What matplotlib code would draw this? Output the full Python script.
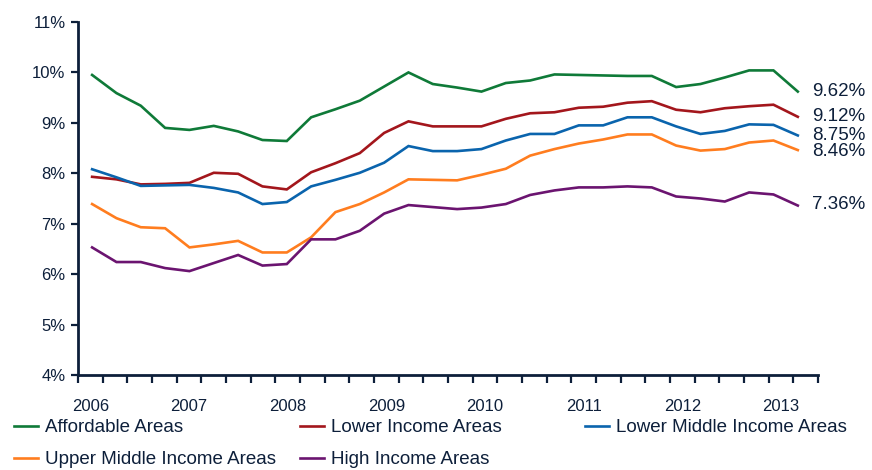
import numpy as np
import matplotlib
matplotlib.use("Agg")
import matplotlib.pyplot as plt

plt.rcParams['font.family'] = ['Liberation Sans', 'DejaVu Sans']

years = ["2006", "2007", "2008", "2009", "2010", "2011", "2012", "2013"]
n_quarters = 30  # 2006 Q1 .. 2013 Q2

affordable = [9.95, 9.59, 9.34, 8.90, 8.86, 8.94, 8.83, 8.66, 8.64, 9.11,
              9.27, 9.44, 9.72, 10.00, 9.77, 9.70, 9.62, 9.79, 9.84, 9.96,
              9.95, 9.94, 9.93, 9.93, 9.71, 9.77, 9.90, 10.04, 10.04, 9.62]
lower = [7.93, 7.88, 7.78, 7.79, 7.81, 8.01, 7.99, 7.74, 7.68, 8.02,
         8.20, 8.40, 8.80, 9.03, 8.93, 8.93, 8.93, 9.08, 9.19, 9.21,
         9.30, 9.32, 9.40, 9.43, 9.26, 9.21, 9.29, 9.33, 9.36, 9.12]
lower_middle = [8.08, 7.92, 7.75, 7.76, 7.77, 7.71, 7.62, 7.39, 7.43, 7.74,
                7.87, 8.01, 8.21, 8.54, 8.44, 8.44, 8.48, 8.65, 8.78, 8.78,
                8.95, 8.95, 9.11, 9.11, 8.93, 8.78, 8.84, 8.97, 8.96, 8.75]
upper_middle = [7.39, 7.11, 6.93, 6.91, 6.53, 6.59, 6.66, 6.43, 6.43, 6.73,
                7.23, 7.39, 7.62, 7.88, 7.87, 7.86, 7.97, 8.09, 8.35, 8.48,
                8.59, 8.67, 8.77, 8.77, 8.55, 8.45, 8.48, 8.61, 8.65, 8.46]
high = [6.53, 6.24, 6.24, 6.12, 6.06, 6.22, 6.38, 6.17, 6.20, 6.69,
        6.69, 6.86, 7.20, 7.37, 7.33, 7.29, 7.32, 7.39, 7.57, 7.66,
        7.72, 7.72, 7.74, 7.72, 7.54, 7.50, 7.44, 7.62, 7.58, 7.36]
end_labels = ["9.62%", "9.12%", "8.75%", "8.46%", "7.36%"]
series_names = ["Affordable Areas", "Lower Income Areas", "Lower Middle Income Areas",
                "Upper Middle Income Areas", "High Income Areas"]

colors = ["#0f7a38", "#a3161c", "#0a64ad", "#ff7d1f", "#6b1470"]
navy = "#0d1f3a"

W, H = 872, 470
fig = plt.figure(figsize=(W / 100, H / 100), dpi=100)
ax = fig.add_axes([78 / W, 1 - 375 / H, (818 - 78) / W, (375 - 22) / H])

x = np.arange(n_quarters)
series = [affordable, lower, lower_middle, upper_middle, high]
handles = []
for vals, c, name in zip(series, colors, series_names):
    h, = ax.plot(x, vals, color=c, lw=1.9, solid_joinstyle='miter', label=name)
    handles.append(h)

xmin, xmax = -0.58, 29.83
ax.set_xlim(xmin, xmax)
ax.set_ylim(4, 11)

# category boundary ticks
step = (xmax - xmin) / n_quarters
ax.set_xticks([xmin + k * step for k in range(n_quarters + 1)])
ax.set_xticklabels([])
ax.tick_params(axis='x', direction='out', length=6, width=1.6, color=navy)
for i, yl in enumerate(years):
    xp = xmin + (0.5 + 4 * i) * step
    ax.text(xp, -0.088, yl, transform=ax.get_xaxis_transform(), ha='center', va='center',
            fontsize=12, color=navy)

ax.set_yticks(np.arange(4, 12, 1))
ax.set_yticklabels([f"{v}%" for v in range(4, 12)], fontsize=12, color=navy)
ax.tick_params(axis='y', direction='out', length=5, width=1.6, color=navy, pad=4)

for s in ['top', 'right']:
    ax.spines[s].set_visible(False)
for s in ['left', 'bottom']:
    ax.spines[s].set_color(navy)
    ax.spines[s].set_linewidth(2)

# end labels
label_offsets = [0, 0, 0, -0.03, 0.03]
for vals, lab, off in zip(series, end_labels, label_offsets):
    ax.annotate(lab, xy=(x[-1], vals[-1] + off), xytext=(10, 0), textcoords='offset points',
                ha='left', va='center', fontsize=13.5, color=navy, annotation_clip=False)

# legend: three columns placed manually
col_x = [14, 300, 585]
col_items = [[0, 3], [1, 4], [2]]
for cx, items in zip(col_x, col_items):
    leg = fig.legend([handles[i] for i in items], [series_names[i] for i in items],
                     loc='upper left', bbox_to_anchor=(cx / W, 1 - 419 / H),
                     frameon=False, fontsize=13.5, handlelength=1.3, handletextpad=0.35,
                     borderpad=0, borderaxespad=0, labelspacing=0.8)
    for t in leg.get_texts():
        t.set_color(navy)

fig.savefig("out.png", dpi=100)
